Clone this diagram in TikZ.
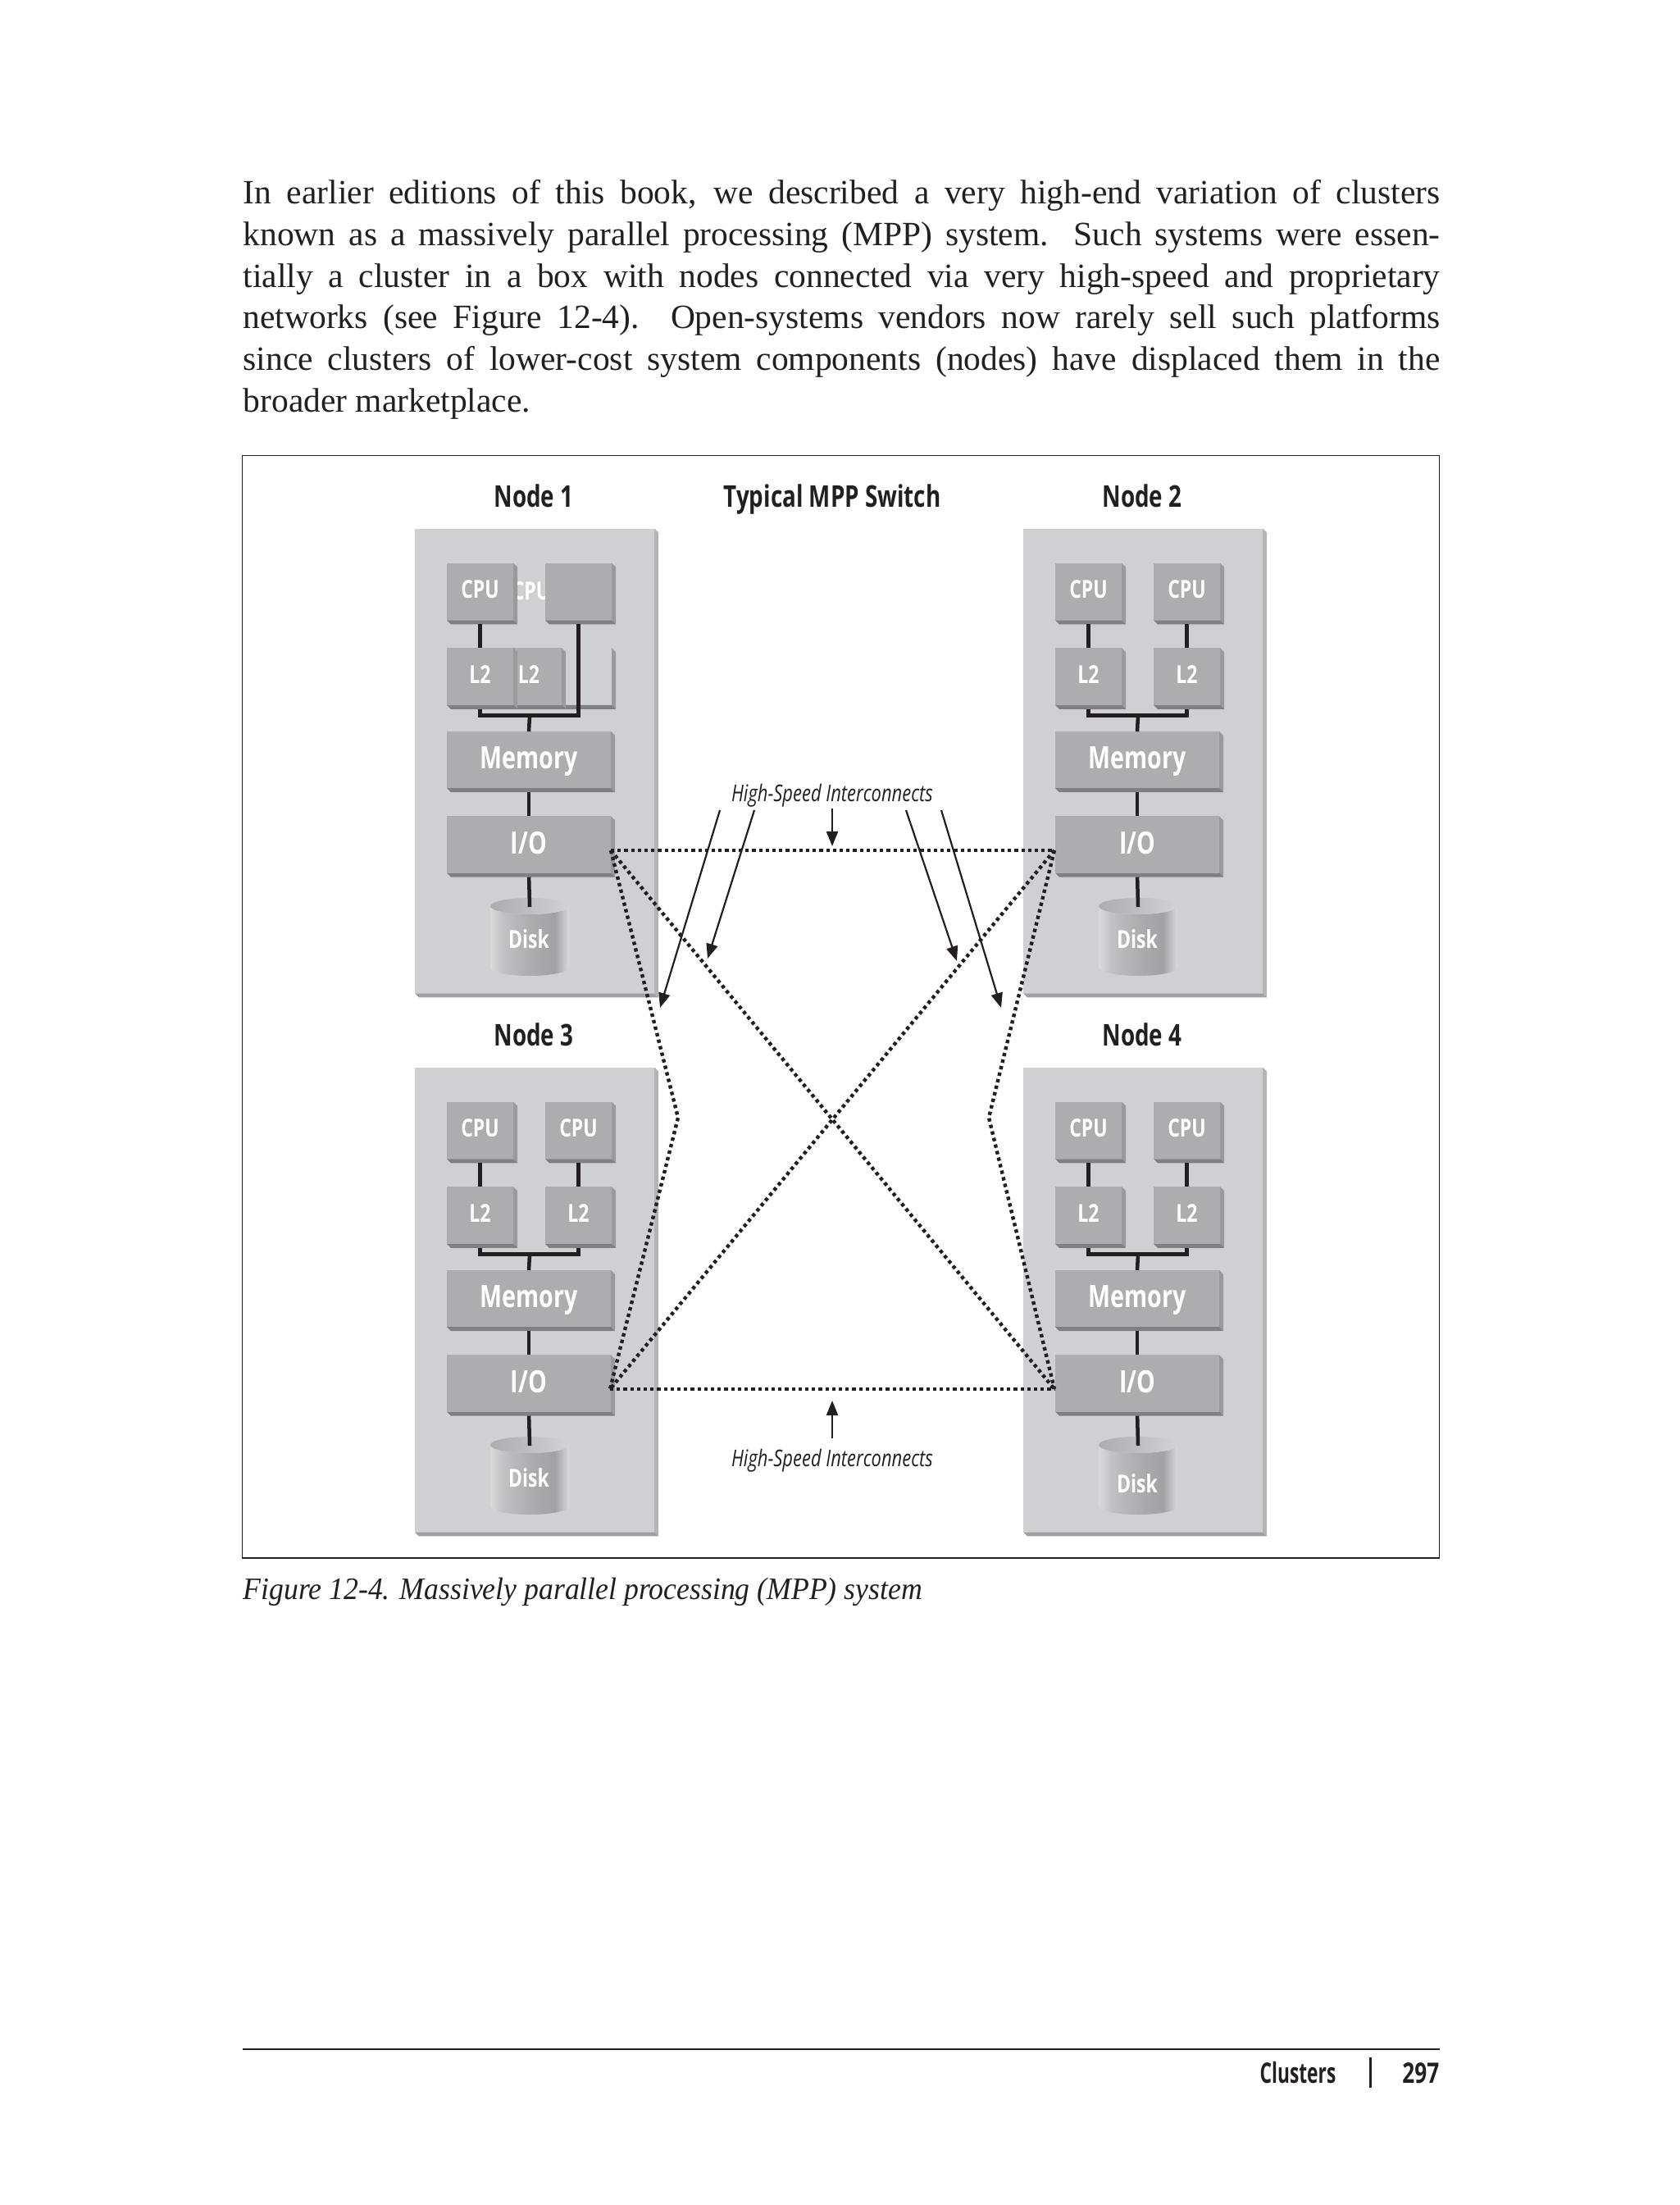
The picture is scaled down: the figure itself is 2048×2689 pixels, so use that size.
\documentclass[tikz,border=0pt]{standalone}
\usepackage{fontspec}
\setmainfont{Liberation Serif}
\newfontfamily\condfont[FakeStretch=0.76]{Open Sans}
\newfontfamily\narrowfont[FakeStretch=0.66]{Open Sans}
\newfontfamily\thinfont[FakeStretch=0.78]{Open Sans}
\newfontfamily\capfont[FakeStretch=0.94]{Liberation Serif}
\usetikzlibrary{arrows.meta}

\definecolor{inkblack}{HTML}{231F20}
\definecolor{panelface}{HTML}{D0D0D3}
\definecolor{panelright}{HTML}{B4B4B7}
\definecolor{panelbottom}{HTML}{A0A0A3}
\definecolor{blockface}{HTML}{ADADB0}
\definecolor{blockright}{HTML}{9A9A9D}
\definecolor{blockbottom}{HTML}{808083}

\pgfdeclarehorizontalshading{diskside}{100bp}{
  color(0bp)=(white!80!blockface);
  color(25bp)=(white!55!blockface);
  color(33bp)=(white!25!blockface);
  color(50bp)=(blockface);
  color(66bp)=(blockface!75!blockbottom);
  color(72bp)=(white!30!blockface);
  color(75bp)=(white!55!blockface);
  color(100bp)=(white!55!blockface)}

% one disk: centre x, y of the upper rim
\newcommand{\diskbody}[2]{
  \shade[shading=diskside] (#1-48, #2) -- (#1-48, #2+75)
    arc[start angle=180, end angle=0, x radius=48, y radius=10]
    -- (#1+48, #2) arc[start angle=0, end angle=180, x radius=48, y radius=10] -- cycle;
  \shade[left color=blockface, right color=white!45!blockface] (#1, #2) ellipse [x radius=48, y radius=10];
}

\begin{document}
\begin{tikzpicture}[
  x=0.01cm, y=-0.01cm,
  bevel/.style 2 args={append after command={\pgfextra{
    \fill[#1] (\tikzlastnode.north east) -- ++(5,5) -- ([shift={(5,5)}]\tikzlastnode.south east)
      -- (\tikzlastnode.south east) -- cycle;
    \fill[#2] (\tikzlastnode.south west) -- ++(5,5) -- ([shift={(5,5)}]\tikzlastnode.south east)
      -- (\tikzlastnode.south east) -- cycle;
  }}},
  panel/.style={rectangle, fill=panelface, inner sep=0pt, outer sep=0pt,
    minimum width=2.92cm, minimum height=5.665cm, bevel={panelright}{panelbottom}},
  small/.style={rectangle, fill=blockface, inner sep=0pt, outer sep=0pt,
    minimum width=0.81cm, minimum height=0.695cm, text=white, text height=6pt, text depth=1.2pt,
    font=\condfont\fontsize{8.6}{10}\selectfont\bfseries, bevel={blockright}{blockbottom}},
  wide/.style={small, minimum width=2.0cm, minimum height=0.69cm, text height=7.6pt,
    font=\condfont\fontsize{10.7}{12}\selectfont\bfseries},
  ghost/.style={small, fill=none},
  bare/.style={small, minimum width=0.8cm, append after command={}},
  disklabel/.style={text=white, inner sep=0pt, text height=6pt, text depth=0pt,
    font=\condfont\fontsize{8.6}{10}\selectfont\bfseries},
  title/.style={inner sep=0pt, text=inkblack, text height=7.6pt, text depth=0pt,
    font=\condfont\fontsize{10.4}{12}\selectfont\bfseries},
  note/.style={inner sep=0pt, text=inkblack, text height=6pt, text depth=0pt,
    font=\thinfont\fontsize{8}{10}\selectfont\itshape},
  bodyline/.style={inner sep=0pt, anchor=base west, text=inkblack,
    font=\fontsize{11.8}{14}\selectfont},
  wire/.style={line width=0.045cm, inkblack},
  link/.style={line width=0.044cm, inkblack, dash pattern=on 0.042cm off 0.04cm},
  pointer/.style={line width=0.022cm, inkblack,
    -{Stealth[inset=0pt, length=0.18cm, width=0.14cm]}},
]
\useasboundingbox (0, 0) rectangle (2048, 2689);

% Offsets of the right column and the lower row
\def\colw{742}
\def\rowh{657}

% Running text
\node[bodyline] (line1) at (296, 249) {\makebox[14.59cm][s]{In earlier editions of this book, we described a very high-end variation of clusters}};
\node[bodyline] (line2) at (296, 300) {\makebox[14.59cm][s]{known as a massively parallel processing (MPP) system. Such systems were essen-}};
\node[bodyline] (line3) at (296, 351) {\makebox[14.59cm][s]{tially a cluster in a box with nodes connected via very high-speed and proprietary}};
\node[bodyline] (line4) at (296, 401) {\makebox[14.59cm][s]{networks (see Figure 12-4). Open-systems vendors now rarely sell such platforms}};
\node[bodyline] (line5) at (296, 452) {\makebox[14.59cm][s]{since clusters of lower-cost system components (nodes) have displaced them in the}};
\node[bodyline] (line6) at (296, 503) {broader marketplace.};

% Figure frame
\node[rectangle, draw=inkblack, line width=0.012cm, inner sep=0pt, minimum width=14.59cm,
  minimum height=13.44cm] (frame) at (1025.5, 1227.5) {};

% Titles
\node[title] (n1title) at (651, 605) {Node 1};
\node[title] (switchtitle) at (1015, 605) {Typical MPP Switch};
\node[title] (n2title) at (651+\colw, 605) {Node 2};
\node[title] (n3title) at (651, 605+\rowh) {Node 3};
\node[title] (n4title) at (651+\colw, 605+\rowh) {Node 4};

% Node 1: the right-hand CPU and L2 have lost their places
\node[panel] (n1panel) at (652, 928) {};
\node[disklabel] (n1cpux) at (648, 721) {CPU};
\node[small] (n1cpua) at (585.5, 721.5) {CPU};
\node[small] (n1cpub) at (705.5, 721.5) {};
\node[ghost] (n1l2b) at (705.5, 825) {};
\node[bare] (n1l2x) at (645, 825) {L2};
\node[small] (n1l2a) at (585.5, 825) {L2};
\node[wide] (n1mem) at (645, 926.5) {Memory};
\node[wide] (n1io) at (645, 1030) {I/O};
\diskbody{646}{1105}
\node[disklabel] (n1disk) at (645, 1146) {Disk};
\coordinate (n1bus) at (646, 872.5);
\coordinate (n1diskin) at (646, 1106);
\draw[wire, shorten <=0.05cm] (n1cpua.south) -- (n1l2a.north);
\draw[wire, shorten <=0.05cm] (n1l2a.south) |- (n1bus);
\draw[wire, shorten <=0.05cm] (n1cpub.south) |- (n1bus);
\draw[wire] (n1bus) -- (n1mem.north);
\draw[wire, shorten <=0.05cm] (n1mem.south) -- (n1io.north);
\draw[wire, shorten <=0.05cm] (n1io.south) -- (n1diskin);

% Node 2
\node[panel] (n2panel) at (652+\colw, 928) {};
\node[small] (n2cpua) at (585.5+\colw, 721.5) {CPU};
\node[small] (n2cpub) at (705.5+\colw, 721.5) {CPU};
\node[small] (n2l2a) at (585.5+\colw, 825) {L2};
\node[small] (n2l2b) at (705.5+\colw, 825) {L2};
\node[wide] (n2mem) at (645+\colw, 926.5) {Memory};
\node[wide] (n2io) at (645+\colw, 1030) {I/O};
\diskbody{646+\colw}{1105}
\node[disklabel] (n2disk) at (645+\colw, 1146) {Disk};
\coordinate (n2bus) at (646+\colw, 872.5);
\coordinate (n2diskin) at (646+\colw, 1106);
\draw[wire, shorten <=0.05cm] (n2cpua.south) -- (n2l2a.north);
\draw[wire, shorten <=0.05cm] (n2cpub.south) -- (n2l2b.north);
\draw[wire, shorten <=0.05cm] (n2l2a.south) |- (n2bus);
\draw[wire, shorten <=0.05cm] (n2l2b.south) |- (n2bus);
\draw[wire] (n2bus) -- (n2mem.north);
\draw[wire, shorten <=0.05cm] (n2mem.south) -- (n2io.north);
\draw[wire, shorten <=0.05cm] (n2io.south) -- (n2diskin);

% Node 3
\node[panel] (n3panel) at (652, 928+\rowh) {};
\node[small] (n3cpua) at (585.5, 721.5+\rowh) {CPU};
\node[small] (n3cpub) at (705.5, 721.5+\rowh) {CPU};
\node[small] (n3l2a) at (585.5, 825+\rowh) {L2};
\node[small] (n3l2b) at (705.5, 825+\rowh) {L2};
\node[wide] (n3mem) at (645, 926.5+\rowh) {Memory};
\node[wide] (n3io) at (645, 1030+\rowh) {I/O};
\diskbody{646}{1105+\rowh}
\node[disklabel] (n3disk) at (645, 1146+\rowh) {Disk};
\coordinate (n3bus) at (646, 872.5+\rowh);
\coordinate (n3diskin) at (646, 1106+\rowh);
\draw[wire, shorten <=0.05cm] (n3cpua.south) -- (n3l2a.north);
\draw[wire, shorten <=0.05cm] (n3cpub.south) -- (n3l2b.north);
\draw[wire, shorten <=0.05cm] (n3l2a.south) |- (n3bus);
\draw[wire, shorten <=0.05cm] (n3l2b.south) |- (n3bus);
\draw[wire] (n3bus) -- (n3mem.north);
\draw[wire, shorten <=0.05cm] (n3mem.south) -- (n3io.north);
\draw[wire, shorten <=0.05cm] (n3io.south) -- (n3diskin);

% Node 4
\node[panel] (n4panel) at (652+\colw, 928+\rowh) {};
\node[small] (n4cpua) at (585.5+\colw, 721.5+\rowh) {CPU};
\node[small] (n4cpub) at (705.5+\colw, 721.5+\rowh) {CPU};
\node[small] (n4l2a) at (585.5+\colw, 825+\rowh) {L2};
\node[small] (n4l2b) at (705.5+\colw, 825+\rowh) {L2};
\node[wide] (n4mem) at (645+\colw, 926.5+\rowh) {Memory};
\node[wide] (n4io) at (645+\colw, 1030+\rowh) {I/O};
\diskbody{646+\colw}{1105+\rowh}
\node[disklabel] (n4disk) at (645+\colw, 1153+\rowh) {Disk};
\coordinate (n4bus) at (646+\colw, 872.5+\rowh);
\coordinate (n4diskin) at (646+\colw, 1106+\rowh);
\draw[wire, shorten <=0.05cm] (n4cpua.south) -- (n4l2a.north);
\draw[wire, shorten <=0.05cm] (n4cpub.south) -- (n4l2b.north);
\draw[wire, shorten <=0.05cm] (n4l2a.south) |- (n4bus);
\draw[wire, shorten <=0.05cm] (n4l2b.south) |- (n4bus);
\draw[wire] (n4bus) -- (n4mem.north);
\draw[wire, shorten <=0.05cm] (n4mem.south) -- (n4io.north);
\draw[wire, shorten <=0.05cm] (n4io.south) -- (n4diskin);

% Interconnects between the I/O blocks
\coordinate (n1port) at (745, 1037);
\coordinate (n2port) at (1286, 1037);
\coordinate (n3port) at (744, 1694);
\coordinate (n4port) at (1286, 1694);
\coordinate (leftbend) at (827, 1363);
\coordinate (rightbend) at (1206, 1363);
\draw[link] (n1port) -- (n2port);
\draw[link] (n3port) -- (n4port);
\draw[link] (n1port) -- (n4port);
\draw[link] (n2port) -- (n3port);
\draw[link] (n1port) -- (leftbend) -- (n3port);
\draw[link] (n2port) -- (rightbend) -- (n4port);

% Labels and their pointers
\node[note] (toplabel) at (1015, 967) {High-Speed Interconnects};
\node[note] (botlabel) at (1015, 1778) {High-Speed Interconnects};
\coordinate (ptra) at (878, 988);
\coordinate (ptrb) at (920, 988);
\coordinate (ptrc) at (1015, 986);
\coordinate (ptrd) at (1105, 988);
\coordinate (ptre) at (1148, 988);
\coordinate (ptrf) at (1015, 1754);
\coordinate (tipa) at (805, 1229);
\coordinate (tipb) at (863, 1169);
\coordinate (tipc) at (1015, 1032);
\coordinate (tipd) at (1167, 1172);
\coordinate (tipe) at (1221, 1229);
\coordinate (tipf) at (1015, 1708);
\draw[pointer] (ptra) -- (tipa);
\draw[pointer] (ptrb) -- (tipb);
\draw[pointer] (ptrc) -- (tipc);
\draw[pointer] (ptrd) -- (tipd);
\draw[pointer] (ptre) -- (tipe);
\draw[pointer] (ptrf) -- (tipf);

% Caption
\node[inner sep=0pt, anchor=base west, text=inkblack, font=\capfont\fontsize{10.8}{14}\selectfont\itshape]
  (caption) at (296, 1950) {Figure 12-4. Massively parallel processing (MPP) system};

% Footer
\coordinate (footl) at (296, 2499);
\coordinate (footr) at (1756, 2499);
\draw[inkblack, line width=0.012cm] (footl) -- (footr);
\node[inner sep=0pt, anchor=base east, text=inkblack, font=\condfont\fontsize{9.8}{12}\selectfont\bfseries]
  (footpage) at (1756, 2540) {297};
\node[inner sep=0pt, anchor=base east, text=inkblack, font=\narrowfont\fontsize{9.8}{12}\selectfont\bfseries]
  (foottitle) at (1630, 2540) {Clusters};
\coordinate (bara) at (1671, 2509);
\coordinate (barb) at (1671, 2546);
\draw[inkblack, line width=0.03cm] (bara) -- (barb);

\end{tikzpicture}
\end{document}
